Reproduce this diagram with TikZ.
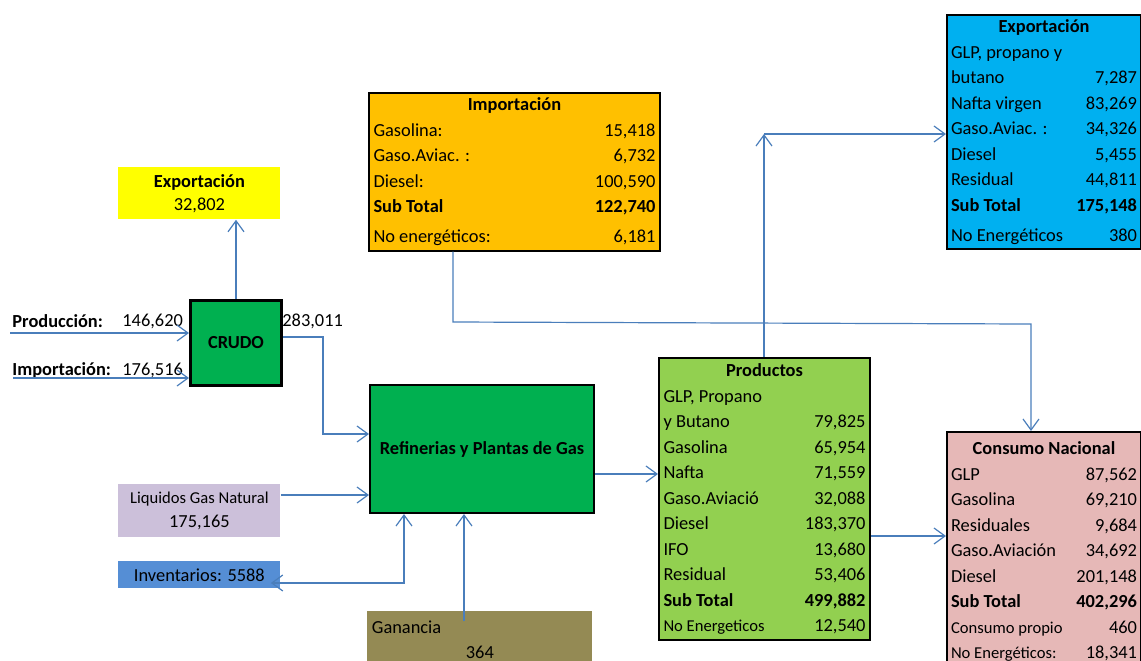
\documentclass[tikz,border=0pt]{standalone}
\usepackage{fontspec}
\setmainfont{Carlito}
\usetikzlibrary{arrows.meta}
\usetikzlibrary{calc}
\usetikzlibrary{positioning}

\definecolor{flujo}{HTML}{4A7EBB}
\definecolor{verde}{HTML}{00B050}
\definecolor{amarillo}{HTML}{FFFF00}
\definecolor{naranja}{HTML}{FFC000}
\definecolor{celeste}{HTML}{00B0F0}
\definecolor{verdeclaro}{HTML}{92D050}
\definecolor{rosa}{HTML}{E6B8B7}
\definecolor{lila}{HTML}{CCC0DA}
\definecolor{azul}{HTML}{558ED5}
\definecolor{oliva}{HTML}{948A54}

\providecommand*{\tabla}[2]{%
    \begin{tabular*}{#1}{@{}l@{\extracolsep{\fill}}r@{}}#2\end{tabular*}%
}
\providecommand*{\chico}{\fontsize{8.3}{12.75}\selectfont}

\begin{document}
\begin{tikzpicture}[x = 0.5pt, y = -0.5pt,
    every node/.append style = {font = \fontsize{9.2}{12.75}\selectfont},
    punta/.tip = {Straight Barb[length = 5.5pt, width = 8pt]},
    caja/.style = {rectangle, draw = black, line width = 1pt, inner xsep = 2pt, inner ysep = 0pt, anchor = north west},
    rotulo/.style = {rectangle, inner xsep = 2pt, inner ysep = 0pt, anchor = north west, align = center},
    dato/.style = {anchor = west, inner sep = 0pt},
    flecha/.style = {draw = flujo, line width = 0.6pt, -punta},
    doble/.style = {draw = flujo, line width = 0.6pt, punta-punta}]

    \useasboundingbox (0,0) rectangle (1141,660);

    % crudo
    \node (expCrudo) at (118,167) [rotulo, fill = amarillo, minimum width = 81pt, minimum height = 26pt,
        font = \fontsize{9.2}{11.5}\selectfont] {\textbf{Exportación}\\32,802};
    \node (crudo) at (189,299) [caja, fill = verde, line width = 1.5pt, minimum width = 45.5pt, minimum height = 42.5pt] {\textbf{CRUDO}};

    \node (lblProd) at (12,321) [dato] {\textbf{Producción:}};
    \node (valProd) at (122,321) [dato] {146,620};
    \node (lblImp) at (12,370) [dato] {\textbf{Importación:}};
    \node (valImp) at (122,370) [dato] {176,516};
    \node (valCrudo) at (282,321) [dato] {283,011};

    % refineria y entradas
    \node (refineria) at (369,384) [caja, fill = verde, minimum width = 112pt, minimum height = 64pt] {\textbf{Refinerias y Plantas de Gas}};
    \node (liquidos) at (118,484) [rotulo, fill = lila, minimum width = 81pt, minimum height = 26.5pt,
        font = \fontsize{9.2}{12}\selectfont] {{\chico Liquidos Gas Natural}\\175,165};
    \node (inventarios) at (118,561) [rotulo, fill = azul, minimum width = 81pt, minimum height = 13.5pt] {Inventarios: 5588};
    \node (ganancia) at (367,611) [rotulo, fill = oliva, minimum width = 112.5pt, minimum height = 29.5pt]
        {\tabla{108pt}{Ganancia & \\ \multicolumn{2}{c}{364}}};

    % tablas
    \node (importacion) at (368,92) [caja, fill = naranja, minimum width = 145.5pt, minimum height = 78pt]
        {\tabla{141pt}{\multicolumn{2}{c}{\textbf{Importación}}\\
        Gasolina: & 15,418\\
        Gaso.Aviac. : & 6,732\\
        Diesel: & 100,590\\
        \textbf{Sub Total} & \textbf{122,740}\\[2.25pt]
        No energéticos: & 6,181}};

    \node (exportacion) at (946,14) [caja, fill = celeste, minimum width = 97pt, minimum height = 117pt]
        {\tabla{93pt}{\multicolumn{2}{c}{\textbf{Exportación}}\\
        GLP, propano y & \\
        butano & 7,287\\
        Nafta virgen & 83,269\\
        Gaso.Aviac. : & 34,326\\
        Diesel & 5,455\\
        Residual & 44,811\\
        \textbf{Sub Total} & \textbf{175,148}\\[2.25pt]
        No Energéticos & 380}};

    \node (productos) at (658,357) [caja, fill = verdeclaro, minimum width = 105.5pt, minimum height = 141pt]
        {\tabla{101pt}{\multicolumn{2}{c}{\textbf{Productos}}\\
        GLP, Propano & \\
        y Butano & 79,825\\
        Gasolina & 65,954\\
        Nafta & 71,559\\
        Gaso.Aviació & 32,088\\
        Diesel & 183,370\\
        IFO & 13,680\\
        Residual & 53,406\\
        \textbf{Sub Total} & \textbf{499,882}\\
        {\chico No Energeticos} & 12,540}};

    \node (consumo) at (946,431) [caja, fill = rosa, minimum width = 97pt, minimum height = 119.5pt]
        {\tabla{93pt}{\multicolumn{2}{c}{\textbf{Consumo Nacional}}\\
        GLP & 87,562\\
        Gasolina & 69,210\\
        Residuales & 9,684\\
        Gaso.Aviación & 34,692\\
        Diesel & 201,148\\
        \textbf{Sub Total} & \textbf{402,296}\\
        {\chico Consumo propio} & 460\\
        {\chico No Energéticos:} & 18,341}};

    % codos
    \coordinate (prodIn) at (10,333);
    \coordinate (impIn) at (13,378);
    \coordinate (codoA) at (323,337);
    \coordinate (codoB) at (323,434);
    \coordinate (liqY) at (0,495);
    \coordinate (invCodo) at (404,583);
    \coordinate (ganY) at (464,621);
    \coordinate (prodY) at (0,474);
    \coordinate (impCodo) at (453,322);
    \coordinate (conCodo) at (1031,324);
    \coordinate (expCodo) at (764,134);
    \coordinate (conY) at (0,536);

    \draw[flecha] (prodIn) -- (prodIn -| crudo.west);
    \draw[flecha] (impIn) -- (impIn -| crudo.west);
    \draw[flecha] (crudo.north) -- (crudo.north |- expCrudo.south);
    \draw[flecha] (codoA -| crudo.east) -- (codoA) -- (codoB) -- (codoB -| refineria.west);
    \draw[flecha] (liquidos.east |- liqY) -- (refineria.west |- liqY);
    \draw[doble] ([xshift = -5pt]inventarios.east |- invCodo) -- (invCodo) -- (invCodo |- refineria.south);
    \draw[flecha] (ganY) -- (ganY |- refineria.south);
    \draw[flecha] (refineria.east |- prodY) -- (productos.west |- prodY);
    \draw[flecha] (impCodo |- importacion.south) -- (impCodo) -- (conCodo) -- (conCodo |- consumo.north);
    \draw[flecha] (expCodo |- productos.north) -- (expCodo);
    \draw[flecha] (expCodo) -- (expCodo -| exportacion.west);
    \draw[flecha] (productos.east |- conY) -- (consumo.west |- conY);

\end{tikzpicture}
\end{document}
